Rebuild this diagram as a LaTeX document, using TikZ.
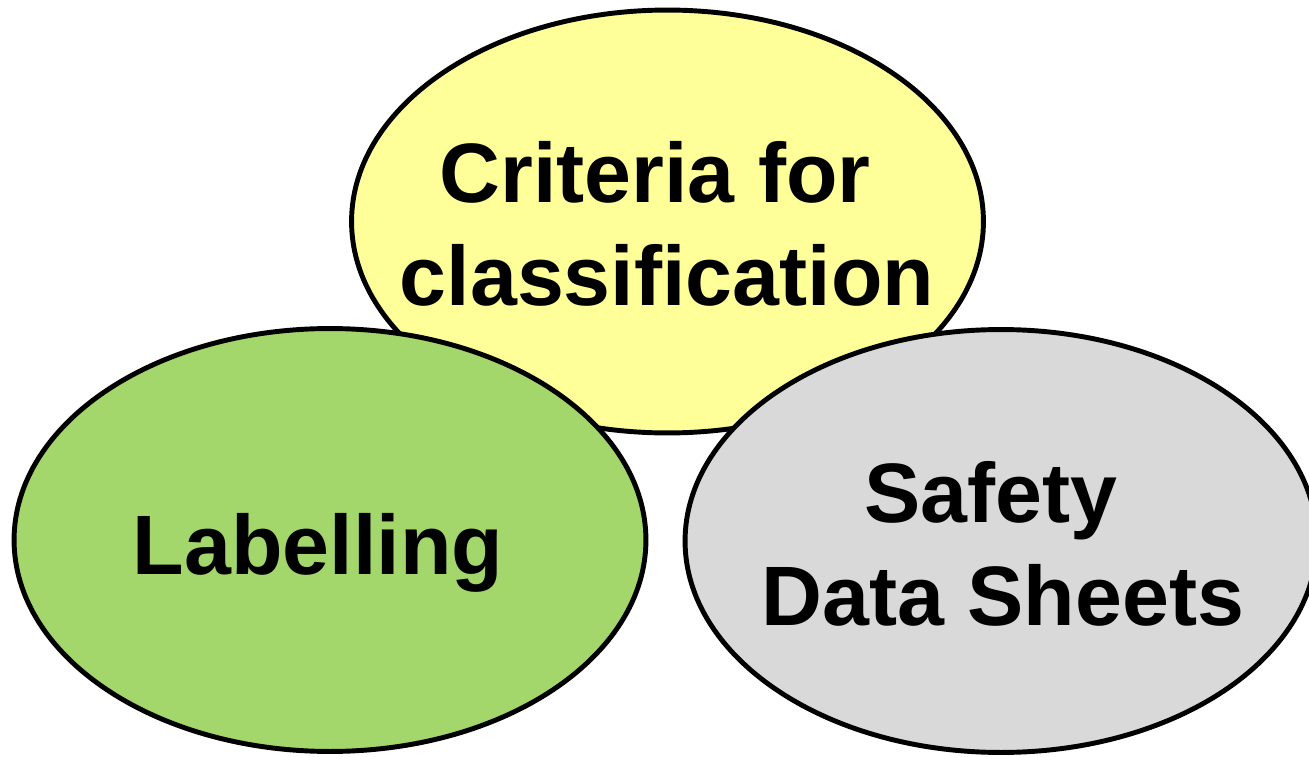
\documentclass[tikz,border=0pt]{standalone}
\usepackage{fontspec}
\setmainfont{Liberation Sans}
\usepackage{xcolor}
\definecolor{critfill}{HTML}{FFFF99}
\definecolor{labfill}{HTML}{A3D66B}
\definecolor{sdsfill}{HTML}{D9D9D9}
\usetikzlibrary{shapes.geometric}
\tikzset{
  topic/.style={
    ellipse, draw=black, line width=2.8pt, inner sep=0pt,
    minimum width=12.64cm, minimum height=8.46cm
  },
  topictext/.style={
    align=center, text=black, inner sep=0pt,
    font=\fontsize{48}{58.5}\selectfont\bfseries
  }
}

\begin{document}
\begin{tikzpicture}[x=0.02cm,y=-0.02cm]
    \useasboundingbox (0,0) rectangle (1309,757);

    % the top one first, the two lower ones overlap it
    \node [topic, fill=critfill] (crit) at (667.5,221.5) {};
    \node [topic, fill=labfill] (lab) at (330,540) {};
    \node [topic, fill=sdsfill] (sds) at (1001,541) {};

    \node [topictext] (crittext) at (667,224)
        {Criteria for\hspace*{.28em}\\classification};
    \node [topictext, anchor=base] (labtext) at (318,574) {Labelling};
    \node [topictext] (sdstext) at (1003,544)
        {Safety\hspace*{.28em}\\Data Sheets};
\end{tikzpicture}
\end{document}
